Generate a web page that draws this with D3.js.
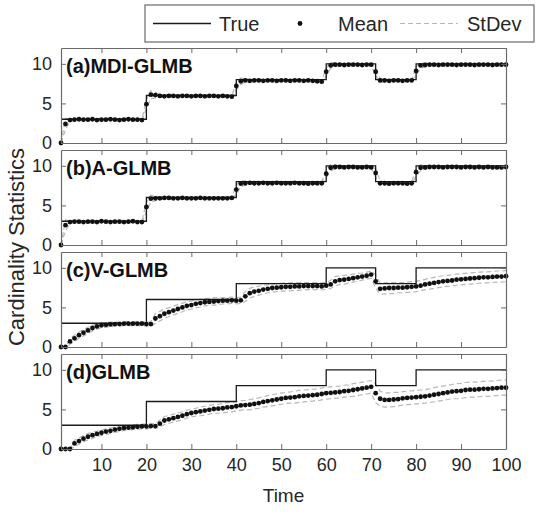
<!DOCTYPE html>
<html><head><meta charset="utf-8">
<script src="https://cdn.jsdelivr.net/npm/d3@7"></script>
<style>body{margin:0;background:#fff}svg{display:block}text{font-family:"Liberation Sans",Arial,sans-serif}</style>
</head><body><svg id="c" width="552" height="515"></svg>
<script>
// ---- data ----
const panelLabels = ["(a)MDI-GLMB", "(b)A-GLMB", "(c)V-GLMB", "(d)GLMB"];
const xTicks = [10,20,30,40,50,60,70,80,90,100];
const yTicks = [0,5,10];
const trueTimes = [1,20,40,60,71,80,100];
const trueCard  = [3,6,8,10,8,10,10];
const legendLabels = ["True","Mean","StDev"];

const meanA = [0,2.4,
 2.9,2.95,3.0,2.95,2.95,3.0,2.9,2.95,2.95,3.0,2.95,2.9,2.95,3.0,2.95,2.95,2.9,
 4.9,
 6.1,6.05,5.95,5.9,5.95,5.95,5.9,5.95,5.95,5.9,5.95,5.95,5.9,5.95,5.95,5.9,5.95,5.9,5.85,
 7.2,
 7.8,7.9,7.85,7.9,7.9,7.85,7.9,7.9,7.85,7.9,7.9,7.85,7.9,7.9,7.85,7.9,7.85,7.8,7.75,
 9.0,
 9.8,9.9,9.9,9.85,9.9,9.9,9.9,9.85,9.9,9.9,
 9.0,
 7.9,7.9,7.85,7.9,7.9,7.85,7.9,7.9,
 9.1,
 9.8,9.85,9.9,9.9,9.85,9.9,9.9,9.9,9.85,9.9,9.9,9.9,9.85,9.9,9.9,9.9,9.85,9.9,9.9,9.9];
const stdA = [0,0.7,
 0.15,0.12,0.1,0.1,0.1,0.1,0.1,0.1,0.1,0.1,0.1,0.1,0.1,0.1,0.1,0.1,0.1,
 0.55,0.5,0.35,
 0.15,0.12,0.1,0.1,0.1,0.1,0.1,0.1,0.1,0.1,0.1,0.1,0.1,0.1,0.1,0.1,0.1,
 0.5,0.4,0.25,
 0.15,0.12,0.1,0.1,0.1,0.1,0.1,0.1,0.1,0.1,0.1,0.1,0.1,0.1,0.1,0.1,0.1,
 0.5,0.35,0.25,
 0.15,0.12,0.1,0.1,0.1,0.1,0.1,0.1,
 0.5,0.25,
 0.15,0.12,0.1,0.1,0.1,0.1,0.1,
 0.5,0.35,0.25,
 0.15,0.12,0.1,0.1,0.1,0.1,0.1,0.1,0.1,0.1,0.1,0.1,0.1,0.1,0.1,0.1,0.1,0.1];

const meanB = [0,2.5,
 2.9,2.95,2.95,2.9,2.95,2.95,2.9,3.0,2.95,2.9,2.95,2.95,2.9,2.95,3.0,2.9,2.9,
 4.8,
 5.85,5.9,5.9,5.95,5.95,5.9,5.9,5.95,5.9,5.9,5.9,5.95,5.9,5.9,5.9,5.9,5.9,5.9,5.95,
 7.0,
 7.75,7.8,7.85,7.8,7.8,7.85,7.8,7.8,7.85,7.8,7.8,7.8,7.85,7.8,7.8,7.75,7.8,7.8,7.8,
 9.0,
 9.75,9.85,9.85,9.8,9.85,9.85,9.8,9.8,9.85,9.8,
 9.1,
 7.8,7.8,7.75,7.8,7.8,7.8,7.75,7.8,
 9.2,
 9.75,9.8,9.85,9.85,9.85,9.8,9.85,9.85,9.85,9.8,9.85,9.85,9.8,9.85,9.8,9.85,9.8,9.8,9.8,9.85];
const stdB = [0,0.7,
 0.15,0.12,0.12,0.1,0.1,0.1,0.1,0.1,0.1,0.1,0.1,0.1,0.1,0.1,0.1,0.1,0.1,
 0.6,0.45,0.3,
 0.15,0.12,0.12,0.1,0.1,0.1,0.1,0.1,0.1,0.1,0.1,0.1,0.1,0.1,0.1,0.1,0.1,
 0.55,0.4,0.25,
 0.15,0.12,0.12,0.1,0.1,0.1,0.1,0.1,0.1,0.1,0.1,0.1,0.1,0.1,0.1,0.1,0.1,
 0.5,0.4,0.25,
 0.15,0.12,0.12,0.1,0.1,0.1,0.1,0.1,
 0.5,0.3,
 0.15,0.12,0.1,0.1,0.1,0.1,0.1,
 0.5,0.4,0.25,
 0.15,0.12,0.12,0.1,0.1,0.1,0.1,0.1,0.1,0.1,0.1,0.1,0.1,0.1,0.1,0.1,0.1,0.1];

const meanC = [0,0,0.7,1.1,1.5,1.8,2.1,2.4,2.6,2.75,
 2.8,2.85,2.9,2.9,2.95,2.95,2.95,2.95,2.95,2.9,
 2.9,3.6,3.9,4.2,4.4,4.6,4.8,5.0,5.2,5.3,
 5.45,5.55,5.65,5.7,5.75,5.8,5.85,5.85,5.9,5.85,
 5.9,6.4,6.8,7.0,7.1,7.25,7.35,7.45,7.5,7.55,
 7.6,7.6,7.65,7.65,7.7,7.7,7.7,7.7,7.65,7.75,
 7.9,8.3,8.45,8.5,8.6,8.7,8.8,8.9,9.0,9.15,
 8.3,7.35,7.4,7.45,7.45,7.5,7.5,7.55,7.6,7.65,
 7.75,7.9,8.0,8.1,8.2,8.3,8.35,8.4,8.5,8.55,
 8.6,8.65,8.7,8.75,8.8,8.8,8.85,8.9,8.9,8.95];
const stdC = [0,0,0.35,0.4,0.4,0.4,0.4,0.35,0.35,0.3,
 0.3,0.3,0.25,0.25,0.25,0.25,0.25,0.25,0.25,0.25,
 0.3,0.6,0.6,0.6,0.55,0.55,0.55,0.55,0.5,0.5,
 0.5,0.5,0.45,0.45,0.45,0.45,0.4,0.4,0.4,0.4,
 0.4,0.65,0.6,0.6,0.55,0.55,0.5,0.5,0.5,0.5,
 0.5,0.5,0.5,0.5,0.45,0.45,0.45,0.45,0.45,0.45,
 0.5,0.6,0.55,0.55,0.5,0.5,0.5,0.45,0.45,0.45,
 0.85,0.7,0.7,0.7,0.7,0.65,0.65,0.65,0.65,0.65,
 0.65,0.65,0.7,0.7,0.7,0.7,0.7,0.7,0.7,0.7,
 0.7,0.7,0.7,0.7,0.7,0.7,0.7,0.7,0.7,0.7];

const meanD = [0,0,0,0.7,1.0,1.3,1.55,1.75,1.9,2.05,
 2.2,2.3,2.45,2.55,2.65,2.7,2.75,2.8,2.85,2.85,
 2.9,2.9,3.2,3.6,3.75,3.9,4.05,4.2,4.4,4.55,
 4.65,4.75,4.85,4.95,5.05,5.1,5.15,5.25,5.3,5.4,
 5.5,5.55,5.6,5.7,5.8,5.95,6.05,6.15,6.25,6.35,
 6.45,6.5,6.55,6.65,6.7,6.75,6.8,6.85,6.95,7.05,
 7.1,7.15,7.2,7.3,7.35,7.45,7.55,7.65,7.75,7.85,
 7.05,6.35,6.2,6.2,6.25,6.3,6.4,6.45,6.5,6.55,
 6.6,6.65,6.75,6.85,6.95,7.05,7.15,7.25,7.3,7.35,
 7.45,7.5,7.5,7.55,7.6,7.6,7.65,7.7,7.75,7.75];
const stdD = [0,0,0,0.4,0.4,0.4,0.4,0.4,0.35,0.35,
 0.35,0.35,0.35,0.35,0.3,0.3,0.3,0.3,0.3,0.3,
 0.3,0.3,0.45,0.5,0.5,0.5,0.5,0.5,0.5,0.5,
 0.5,0.55,0.55,0.55,0.55,0.55,0.6,0.6,0.6,0.6,
 0.6,0.6,0.65,0.65,0.65,0.65,0.7,0.7,0.7,0.7,
 0.7,0.7,0.75,0.75,0.75,0.75,0.75,0.75,0.75,0.75,
 0.75,0.75,0.75,0.75,0.75,0.8,0.8,0.8,0.8,0.8,
 1.2,0.95,0.9,0.9,0.9,0.85,0.85,0.85,0.85,0.85,
 0.85,0.85,0.85,0.9,0.9,0.9,0.9,0.9,0.95,0.95,
 0.95,0.95,0.95,0.95,0.95,0.95,0.95,0.95,0.95,0.95];

const means = [meanA, meanB, meanC, meanD];
const stds  = [stdA, stdB, stdC, stdD];
const times = d3.range(1, 101);

// ---- layout ----
const svg = d3.select("#c");
const left = 61, right = 506;
const tops = [48, 150, 252, 354], ph = 95;
const x = d3.scaleLinear().domain([1, 100]).range([left, right]);
const axisCol = "#6a6a6a", textCol = "#262626";

tops.forEach((top, i) => {
  const y = d3.scaleLinear().domain([0, 12]).range([top + ph, top]);
  const g = svg.append("g");
  const m = means[i], s = stds[i];

  const up = d3.line().x((d, k) => x(times[k])).y((d, k) => y(m[k] + s[k]));
  const lo = d3.line().x((d, k) => x(times[k])).y((d, k) => y(Math.max(0, m[k] - s[k])));
  [up, lo].forEach(l => g.append("path").attr("d", l(m)).attr("fill", "none")
     .attr("stroke", "#b8b8b8").attr("stroke-width", 1.2).attr("stroke-dasharray", "5,3"));

  const tl = d3.line().curve(d3.curveStepAfter).x((d, k) => x(trueTimes[k])).y(d => y(d));
  g.append("path").attr("d", tl(trueCard)).attr("fill", "none").attr("stroke", "#1a1a1a").attr("stroke-width", 1.3);

  g.selectAll("circle").data(m).join("circle")
    .attr("cx", (d, k) => x(times[k])).attr("cy", d => y(d)).attr("r", 2.4).attr("fill", "#111");

  const axB = d3.axisBottom(x).tickValues(xTicks).tickSizeInner(-5).tickSizeOuter(0).tickPadding(9);
  const axT = d3.axisTop(x).tickValues(xTicks).tickSizeInner(-5).tickSizeOuter(0).tickFormat("");
  const axL = d3.axisLeft(y).tickValues(yTicks).tickSizeInner(-5).tickSizeOuter(0).tickPadding(9);
  const axR = d3.axisRight(y).tickValues(yTicks).tickSizeInner(-5).tickSizeOuter(0).tickFormat("");
  const gb = g.append("g").attr("transform", `translate(0,${top + ph})`).call(axB);
  if (i < 3) gb.selectAll("text").remove();
  g.append("g").attr("transform", `translate(0,${top})`).call(axT);
  g.append("g").attr("transform", `translate(${left},0)`).call(axL);
  g.append("g").attr("transform", `translate(${right},0)`).call(axR);
  g.selectAll(".domain").attr("stroke", axisCol).attr("stroke-width", 1.2);
  g.selectAll(".tick line").attr("stroke", axisCol);
  g.selectAll(".tick text").attr("fill", textCol).style("font-size", "18px").style("font-family", "Liberation Sans, Arial, sans-serif");

  g.append("text").attr("x", left + 5).attr("y", top + 25).text(panelLabels[i])
    .attr("font-weight", "bold").attr("font-size", 20).attr("fill", "#111");
});

svg.append("text").attr("x", x(50.5)).attr("y", 502).attr("text-anchor", "middle")
  .attr("font-size", 19).attr("fill", textCol).text("Time");
svg.append("text").attr("transform", "translate(24,247) rotate(-90)").attr("text-anchor", "middle")
  .attr("font-size", 22).attr("fill", textCol).text("Cardinality Statistics");

// legend
const lg = svg.append("g");
lg.append("rect").attr("x", 145).attr("y", 5).attr("width", 389).attr("height", 37)
  .attr("fill", "#fff").attr("stroke", axisCol).attr("stroke-width", 1.2);
const ly = 23.5;
lg.append("line").attr("x1", 153).attr("x2", 211).attr("y1", ly).attr("y2", ly).attr("stroke", "#1a1a1a").attr("stroke-width", 1.3);
lg.append("circle").attr("cx", 300).attr("cy", ly).attr("r", 2.4).attr("fill", "#111");
lg.append("line").attr("x1", 400).attr("x2", 458).attr("y1", ly).attr("y2", ly).attr("stroke", "#b8b8b8").attr("stroke-width", 1.2).attr("stroke-dasharray", "5,3");
[[219, legendLabels[0]], [338, legendLabels[1]], [467, legendLabels[2]]].forEach(([lx, t]) =>
  lg.append("text").attr("x", lx).attr("y", ly + 7).attr("font-size", 20).attr("fill", textCol).text(t));
</script></body></html>
